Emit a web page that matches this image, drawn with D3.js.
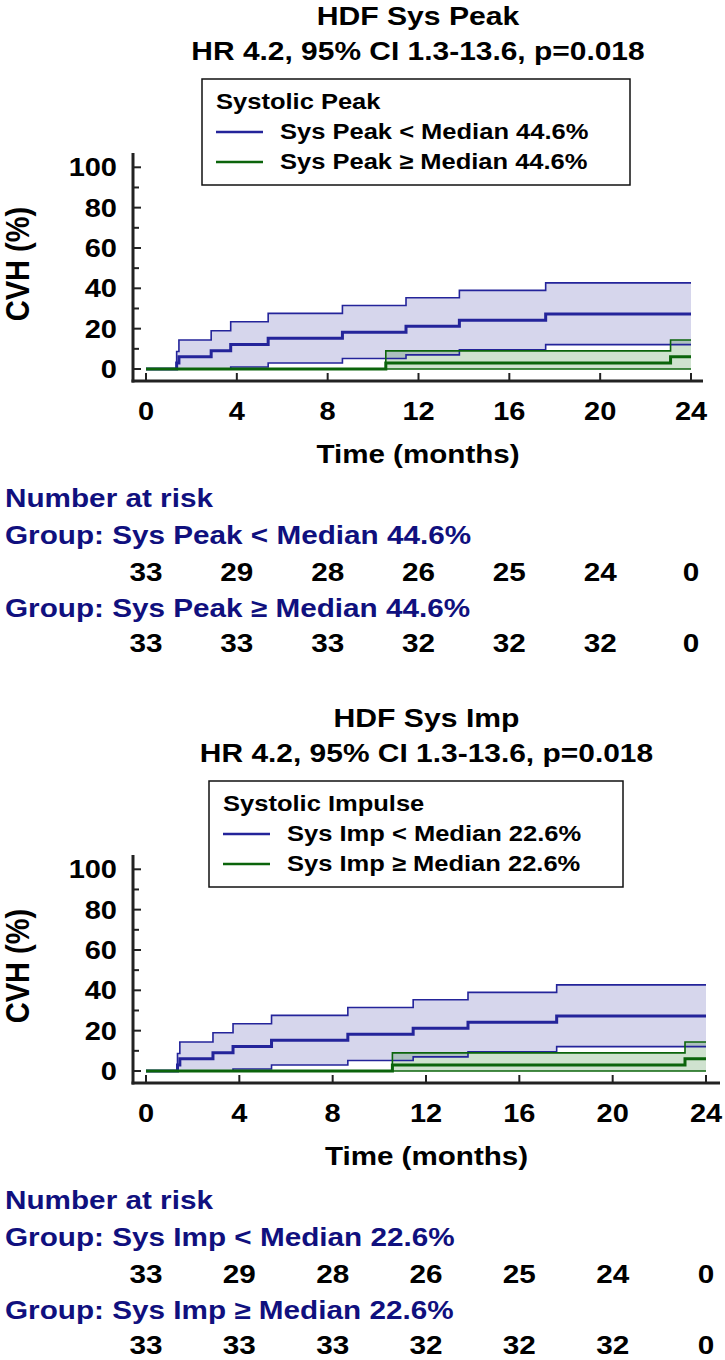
<!DOCTYPE html>
<html><head><meta charset="utf-8">
<script src="https://cdn.jsdelivr.net/npm/d3@7"></script>
<style>
body{margin:0;background:#fff;}
svg text{font-family:"Liberation Sans",Arial,Helvetica,sans-serif;font-weight:bold;}
</style></head>
<body><svg id="c" width="725" height="1360"></svg>
<script>
// ---- data ----
const timeTicks = [0, 4, 8, 12, 16, 20, 24];
const yTicks = [0, 20, 40, 60, 80, 100];
const yMinorTicks = [10, 30, 50, 70, 90];

const blueTimes = [0, 1.35, 1.45, 2.87, 3.73, 5.38, 8.65, 11.45, 13.8, 17.6, 24];
const blueEst   = [0, 3.0, 6.1, 9.1, 12.1, 15.2, 18.2, 21.2, 24.2, 27.3, 27.3];
const blueUpper = [0, 8.7, 14.4, 19.0, 23.4, 27.6, 31.5, 35.3, 39.0, 42.7, 42.7];
const blueLower = [0, 0, 0, 0, 1.0, 3.0, 5.2, 7.0, 9.5, 12.1, 12.1];

const greenTimes = [0, 10.56, 23.1, 24];
const greenEst   = [0, 3.0, 6.1, 6.1];
const greenUpper = [0, 9.0, 14.4, 14.4];
const greenLower = [0, 0, 0, 0];

const riskBelow = [33, 29, 28, 26, 25, 24, 0];
const riskAbove = [33, 33, 33, 32, 32, 32, 0];

const titles = ["HDF Sys Peak", "HDF Sys Imp"];
const hrTexts = ["HR 4.2, 95% CI 1.3-13.6, p=0.018", "HR 4.2, 95% CI 1.3-13.6, p=0.018"];
const legendTitles = ["Systolic Peak", "Systolic Impulse"];
const belowLabels = ["Sys Peak < Median 44.6%", "Sys Imp < Median 22.6%"];
const aboveLabels = ["Sys Peak \u2265 Median 44.6%", "Sys Imp \u2265 Median 22.6%"];

// ---- layout ----
const BLUE = "#24249a", GREEN = "#0b640b", NAVY = "#10107e", AXIS = "#222";
const SX = 1.16; // horizontal stretch of the lettering
const panels = [
  {dy: 0,   xr: [146, 691], axisEnd: 703, legend: [202, 79, 428, 106]},
  {dy: 702, xr: [146, 706], axisEnd: 720, legend: [209, 79, 414, 106]}
];
const svg = d3.select("#c");

function txt(g, x, y, s, size, anchor, fill) {
  return g.append("text")
    .attr("transform", `translate(${x},${y}) scale(${SX},1)`)
    .attr("font-size", size).attr("text-anchor", anchor || "start")
    .attr("fill", fill || "#000").text(s);
}
function series(times, vals){ return times.map((t,i)=>({t, v: vals[i]})); }
function band(times, lo, hi){ return times.map((t,i)=>({t, lo: lo[i], hi: hi[i]})); }

panels.forEach((p, k) => {
  const g = svg.append("g").attr("transform", `translate(0,${p.dy})`);
  const x = d3.scaleLinear().domain([0, 24]).range(p.xr);
  const y = d3.scaleLinear().domain([0, 100]).range([369, 167.3]);
  const yAxisX = 133, xAxisY = 381;
  const cx = (yAxisX + p.axisEnd) / 2;

  // titles
  txt(g, cx, 25, titles[k], 26, "middle");
  txt(g, cx, 60, hrTexts[k], 25.8, "middle");

  // legend
  const [lx, ly, lw, lh] = p.legend;
  g.append("rect").attr("x", lx).attr("y", ly).attr("width", lw).attr("height", lh)
    .attr("fill", "#fff").attr("stroke", "#111").attr("stroke-width", 1.5);
  txt(g, lx + 14, ly + 30, legendTitles[k], 22);
  [[belowLabels[k], BLUE], [aboveLabels[k], GREEN]].forEach(([lab, col], i) => {
    const yy = ly + 53 + i * 30;
    g.append("line").attr("x1", lx + 14).attr("x2", lx + 61).attr("y1", yy).attr("y2", yy)
      .attr("stroke", col).attr("stroke-width", 2.5);
    txt(g, lx + 78, yy + 7, lab, 22);
  });

  // bands
  const area = d3.area().curve(d3.curveStepAfter).x(d => x(d.t)).y0(d => y(d.lo)).y1(d => y(d.hi));
  g.append("path").datum(band(blueTimes, blueLower, blueUpper)).attr("d", area)
    .attr("fill", "#00008b").attr("fill-opacity", 0.16);
  g.append("path").datum(band(greenTimes, greenLower, greenUpper)).attr("d", area)
    .attr("fill", "#006400").attr("fill-opacity", 0.19);

  const line = d3.line().curve(d3.curveStepAfter).x(d => x(d.t)).y(d => y(d.v));
  const drawLine = (times, vals, col, w) => g.append("path").datum(series(times, vals)).attr("d", line)
    .attr("fill", "none").attr("stroke", col).attr("stroke-width", w);
  drawLine(blueTimes, blueUpper, BLUE, 1.6);
  drawLine(blueTimes, blueLower, BLUE, 1.6);
  drawLine(blueTimes, blueEst, BLUE, 3);
  drawLine(greenTimes, greenUpper, GREEN, 1.6);
  drawLine(greenTimes, greenLower, GREEN, 1.6);
  drawLine(greenTimes, greenEst, GREEN, 3);

  // y axis
  g.append("line").attr("x1", yAxisX).attr("x2", yAxisX).attr("y1", 153).attr("y2", xAxisY + 1.5)
    .attr("stroke", AXIS).attr("stroke-width", 3);
  yTicks.forEach(v => {
    g.append("line").attr("x1", yAxisX).attr("x2", yAxisX + 8).attr("y1", y(v)).attr("y2", y(v))
      .attr("stroke", AXIS).attr("stroke-width", 2);
    txt(g, 117, y(v) + 9, v, 25, "end");
  });
  yMinorTicks.forEach(v => {
    g.append("line").attr("x1", yAxisX).attr("x2", yAxisX + 6).attr("y1", y(v)).attr("y2", y(v))
      .attr("stroke", AXIS).attr("stroke-width", 2);
  });
  g.append("text").attr("transform", `translate(29,264) rotate(-90) scale(1,${SX})`).attr("text-anchor", "middle")
    .attr("font-size", 29).text("CVH (%)");

  // x axis
  g.append("line").attr("x1", yAxisX - 1.5).attr("x2", p.axisEnd).attr("y1", xAxisY).attr("y2", xAxisY)
    .attr("stroke", AXIS).attr("stroke-width", 3);
  timeTicks.forEach(t => {
    g.append("line").attr("x1", x(t)).attr("x2", x(t)).attr("y1", xAxisY).attr("y2", xAxisY - 8)
      .attr("stroke", AXIS).attr("stroke-width", 2);
    txt(g, x(t), 420, t, 25, "middle");
  });
  txt(g, cx, 463, "Time (months)", 25.5, "middle");

  // risk table
  txt(g, 5, 507, "Number at risk", 25.6, "start", NAVY);
  txt(g, 5, 544, "Group: " + belowLabels[k], 25.6, "start", NAVY);
  riskBelow.forEach((n, i) => txt(g, x(timeTicks[i]), 581, n, 25.6, "middle"));
  txt(g, 5, 617, "Group: " + aboveLabels[k], 25.6, "start", NAVY);
  riskAbove.forEach((n, i) => txt(g, x(timeTicks[i]), 652, n, 25.6, "middle"));
});
</script></body></html>
